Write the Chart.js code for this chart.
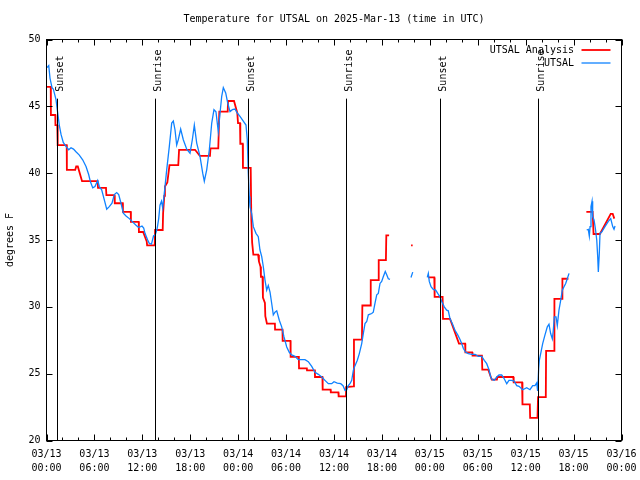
<!DOCTYPE html>
<html><head><meta charset="utf-8">
<script src="https://cdn.jsdelivr.net/npm/chart.js@4/dist/chart.umd.min.js"></script>
<style>html,body{margin:0;padding:0;background:#fff}</style>
</head><body>
<canvas id="c" width="640" height="480"></canvas>
<script>
const titleText = 'Temperature for UTSAL on 2025-Mar-13 (time in UTC)';
const yTitle = 'degrees F';
const seriesNames = ['UTSAL Analysis', 'UTSAL'];
const seriesColors = ['#ff0000', '#0f82ff'];
const yMin = 20, yMax = 50, yStep = 5;
const xMin = 0, xMax = 72, xMajorStep = 6, xMinorStep = 2;
const startMonth = '03', startDay = 13;

const eventLabels = ['Sunset', 'Sunrise', 'Sunset', 'Sunrise', 'Sunset', 'Sunrise'];
const eventHours = [1.35, 13.62, 25.27, 37.55, 49.31, 61.6];

// UTSAL Analysis (hours since 03/13 00:00 UTC, deg F); null = no data
const redHours = [0.03,0.53,0.55,1.10,1.12,1.35,1.40,2.53,2.55,3.60,3.72,3.92,4.45,6.40,6.45,7.45,7.50,8.50,8.55,9.55,9.57,10.55,10.57,11.55,11.57,12.10,12.55,12.60,13.55,13.60,14.55,14.60,14.75,14.83,15.13,15.40,16.50,16.60,18.60,19.20,20.47,20.53,21.51,21.64,22.69,22.73,23.48,23.89,23.98,24.23,24.27,24.57,24.60,25.57,25.65,25.75,25.90,26.50,26.60,26.80,26.85,27.05,27.10,27.35,27.40,27.60,28.60,28.62,29.55,29.57,30.55,30.57,31.60,31.62,32.60,32.62,33.60,33.62,34.55,34.58,35.58,35.60,36.55,36.58,37.50,37.52,38.45,38.50,39.50,39.55,40.55,40.60,41.55,41.60,42.50,42.55,42.90,
  44.0,45.65,45.85,46.5,
  47.80,48.56,48.60,49.60,49.65,50.53,51.65,52.42,52.45,53.30,53.35,54.52,54.57,55.32,55.75,56.40,56.45,58.45,58.50,59.55,59.60,60.52,60.56,61.48,61.55,62.52,62.56,63.55,63.60,64.55,64.60,65.35,
  66.5,67.60,68.39,68.50,69.30,70.65,70.90,71.10];
const redTemps = [46.45,46.45,44.35,44.35,43.6,43.6,42.1,42.1,40.25,40.25,40.5,40.5,39.4,39.4,38.9,38.9,38.35,38.35,37.75,37.75,37.1,37.1,36.35,36.35,35.6,35.6,34.9,34.6,34.6,35.75,35.75,37.0,38.3,39.0,39.3,40.6,40.6,41.75,41.75,41.3,41.3,41.85,41.85,44.6,44.6,45.4,45.4,44.5,43.75,43.75,42.2,42.2,40.4,40.4,36.5,34.8,33.9,33.9,33.4,33.0,32.25,32.25,30.7,30.3,29.3,28.75,28.75,28.3,28.3,27.45,27.45,26.25,26.25,25.4,25.4,25.25,25.25,24.75,24.75,23.8,23.8,23.6,23.6,23.3,23.3,24.0,24.05,27.55,27.55,30.1,30.1,32.0,32.0,33.5,33.5,35.35,35.35,
  null,34.6,34.6,null,
  32.2,32.2,30.75,30.75,29.1,29.1,27.25,27.25,26.6,26.6,26.35,26.35,25.3,25.3,24.55,24.55,24.75,24.75,24.35,24.35,22.7,22.7,21.7,21.7,23.25,23.25,26.7,26.7,30.6,30.6,32.1,32.1,
  null,37.1,37.1,35.45,35.45,36.95,36.95,36.6];

// UTSAL observations
const blueHours = [0.06,0.28,0.44,0.69,0.85,1.19,1.35,1.60,1.82,2.10,2.44,2.78,3.07,3.38,3.69,4.11,4.53,4.95,5.28,5.48,5.79,6.07,6.41,6.61,6.91,7.24,7.54,7.86,8.20,8.49,8.79,9.04,9.33,9.62,9.96,10.37,10.87,11.21,11.50,11.80,11.96,12.17,12.33,12.67,12.87,13.15,13.40,13.62,13.84,14.05,14.21,14.40,14.55,14.84,15.05,15.38,15.68,15.88,16.09,16.30,16.50,16.80,17.13,17.56,17.97,18.26,18.51,18.81,19.22,19.56,19.76,20.06,20.39,20.69,20.97,21.22,21.51,21.73,21.94,22.14,22.44,22.69,22.98,23.27,23.60,23.89,24.23,24.64,24.98,25.14,25.27,25.39,25.48,25.69,25.90,26.23,26.52,26.73,26.95,27.15,27.36,27.57,27.77,27.99,28.20,28.40,28.61,28.83,29.15,29.45,29.74,30.08,30.40,30.70,31.12,31.53,31.96,32.37,32.78,33.21,33.62,34.04,34.46,34.87,35.29,35.71,36.00,36.41,36.84,37.13,37.38,37.59,37.79,38.00,38.22,38.42,38.63,38.92,39.17,39.47,39.67,39.88,40.10,40.30,40.72,40.92,41.13,41.35,41.55,41.76,41.97,42.17,42.42,42.60,42.80,43.01,
  44.0,45.64,45.86,46.5,
  47.68,47.81,47.93,48.15,48.43,48.73,48.99,49.27,49.49,49.81,50.11,50.31,50.53,50.81,51.15,51.49,51.78,51.99,52.19,52.49,52.82,53.24,53.66,54.07,54.50,54.82,55.12,55.41,55.62,55.82,56.07,56.37,56.66,57.00,57.33,57.63,57.91,58.25,58.54,58.88,59.17,59.63,60.13,60.54,60.88,61.17,61.38,61.50,61.63,61.71,61.88,62.13,62.42,62.71,62.92,63.13,63.34,63.46,63.59,63.80,63.96,64.17,64.39,64.59,64.80,65.01,65.21,65.43,
  66.5,67.64,67.84,67.97,68.06,68.18,68.31,68.39,68.56,68.72,68.90,69.02,69.10,69.22,69.31,69.52,69.93,70.35,70.65,70.90,71.06,71.19];
const blueTemps = [47.9,48.05,47.1,46.4,46.3,45.5,44.75,43.6,42.9,42.3,42.0,41.75,41.9,41.8,41.6,41.35,41.0,40.5,39.9,39.4,38.9,39.0,39.45,39.0,38.75,38.0,37.3,37.5,37.75,38.4,38.55,38.4,37.75,37.0,36.8,36.6,36.3,36.1,35.95,36.0,36.05,35.9,35.5,35.0,34.75,34.7,35.3,35.4,35.8,36.6,37.6,37.9,37.4,39.0,40.25,42.0,43.75,43.9,43.25,42.1,42.5,43.3,42.5,41.8,41.5,42.5,43.6,42.25,41.25,40.0,39.4,40.25,41.75,43.75,44.75,44.6,43.1,44.5,45.75,46.4,46.0,45.25,44.6,44.75,44.8,44.5,44.25,43.9,43.6,42.5,40.0,38.25,37.5,37.0,36.0,35.5,35.25,34.25,33.75,33.0,32.0,31.25,31.6,31.1,30.25,29.4,29.6,29.7,29.0,28.5,27.75,27.0,26.6,26.4,26.3,26.05,26.05,26.05,25.9,25.55,25.1,24.95,24.75,24.5,24.25,24.25,24.4,24.3,24.25,24.1,23.75,23.8,24.1,24.25,24.5,25.25,25.6,26.0,26.5,27.25,28.0,28.75,28.9,29.4,29.5,29.6,30.25,30.9,31.0,31.75,31.9,32.25,32.65,32.4,32.1,32.05,
  null,32.2,32.6,null,
  32.2,32.5,31.9,31.5,31.3,31.25,31.0,30.75,30.4,30.0,29.75,29.7,29.1,28.75,28.25,27.9,27.55,27.25,26.9,26.6,26.5,26.45,26.45,26.3,26.3,26.0,25.75,25.3,24.75,24.55,24.5,24.75,24.9,24.9,24.6,24.25,24.5,24.5,24.45,24.1,24.05,23.8,23.95,23.8,24.1,24.1,24.3,23.7,25.4,26.0,26.5,27.25,27.9,28.5,28.7,28.0,27.6,28.25,29.25,29.25,28.6,29.75,30.5,31.25,31.5,31.75,32.1,32.5,
  null,35.75,35.8,35.3,36.0,37.5,37.9,36.75,36.5,35.9,35.0,33.75,32.6,34.0,35.5,35.6,36.0,36.4,36.6,36.0,35.8,36.05];

const FONT = '"DejaVu Sans Mono", "Liberation Mono", monospace';
const toPoints = (hs, ts) => hs.map((h, i) => ({ x: h, y: ts[i] }));

const overlay = {
  id: 'overlay',
  afterDatasetsDraw(chart) {
    const { ctx, chartArea: a, scales: { x, y } } = chart;
    ctx.save();
    ctx.strokeStyle = '#000';
    ctx.fillStyle = '#000';
    ctx.lineWidth = 1;
    ctx.font = '10px ' + FONT;
    // sunrise / sunset markers
    const lineTop = a.bottom - (a.bottom - a.top) * 0.8525;
    eventHours.forEach((h, i) => {
      const px = Math.round(x.getPixelForValue(h)) + 0.5;
      ctx.beginPath(); ctx.moveTo(px, a.bottom); ctx.lineTo(px, lineTop); ctx.stroke();
      ctx.save();
      ctx.translate(px + 5, lineTop - 7);
      ctx.rotate(-Math.PI / 2);
      ctx.textAlign = 'left'; ctx.textBaseline = 'alphabetic';
      ctx.fillText(eventLabels[i], 0, 0);
      ctx.restore();
    });
    // frame
    ctx.strokeRect(a.left, a.top, a.right - a.left, a.bottom - a.top);
    // ticks
    ctx.beginPath();
    for (let v = yMin; v <= yMax; v += yStep) {
      const py = Math.round(y.getPixelForValue(v)) + 0.5;
      ctx.moveTo(a.left, py); ctx.lineTo(a.left + 6, py);
      ctx.moveTo(a.right, py); ctx.lineTo(a.right - 6, py);
    }
    for (let v = xMin; v <= xMax; v += xMinorStep) {
      const px = Math.round(x.getPixelForValue(v)) + 0.5;
      const len = (v % xMajorStep === 0) ? 6 : 3;
      ctx.moveTo(px, a.bottom); ctx.lineTo(px, a.bottom - len);
      ctx.moveTo(px, a.top); ctx.lineTo(px, a.top + len);
    }
    ctx.stroke();
    // legend (gnuplot style: text right-aligned, sample line to the right)
    chart.data.datasets.forEach((ds, i) => {
      const ly = 50 + i * 13;
      ctx.textAlign = 'right'; ctx.textBaseline = 'middle';
      ctx.fillStyle = '#000';
      ctx.fillText(ds.label, a.right - 47.5, ly);
      ctx.strokeStyle = ds.borderColor; ctx.lineWidth = ds.borderWidth;
      ctx.beginPath(); ctx.moveTo(a.right - 40, ly); ctx.lineTo(a.right - 11, ly); ctx.stroke();
    });
    ctx.restore();
  }
};

new Chart(document.getElementById('c'), {
  type: 'line',
  data: {
    datasets: [
      { label: seriesNames[0], data: toPoints(redHours, redTemps), borderColor: seriesColors[0], borderWidth: 1.8, order: 1 },
      { label: seriesNames[1], data: toPoints(blueHours, blueTemps), borderColor: seriesColors[1], borderWidth: 1.3, order: 0 }
    ]
  },
  options: {
    responsive: false,
    animation: false,
    devicePixelRatio: 1,
    spanGaps: false,
    elements: { point: { radius: 0 }, line: { tension: 0, borderJoinStyle: 'miter' } },
    layout: { padding: { left: 0, right: 18.5, top: 0, bottom: 0 } },
    plugins: {
      legend: { display: false },
      tooltip: { enabled: false },
      title: {
        display: true, text: titleText, color: '#000', fullSize: false,
        font: { family: FONT, size: 10, weight: 'normal', lineHeight: 1.2 },
        padding: { top: 13.5, bottom: 14 }
      }
    },
    scales: {
      x: {
        type: 'linear', min: xMin, max: xMax,
        afterFit: s => { s.height = 39.5; s.paddingLeft = 0; s.paddingRight = 0; },
        grid: { display: false, drawTicks: false },
        border: { display: false },
        ticks: {
          stepSize: xMajorStep, autoSkip: false, maxRotation: 0, includeBounds: true,
          color: '#000', padding: 7,
          font: { family: FONT, size: 10, lineHeight: 1.4 },
          callback: v => {
            const day = startDay + Math.floor(v / 24);
            const hr = v % 24;
            return [startMonth + '/' + day, String(hr).padStart(2, '0') + ':00'];
          }
        }
      },
      y: {
        min: yMin, max: yMax,
        afterFit: s => { s.width = 46.5; },
        grid: { display: false, drawTicks: false },
        border: { display: false },
        title: { display: true, text: yTitle, color: '#000', font: { family: FONT, size: 10 }, padding: { top: 4, bottom: 4 } },
        ticks: { stepSize: yStep, color: '#000', padding: 6, font: { family: FONT, size: 10 } }
      }
    }
  },
  plugins: [overlay]
});
</script>
</body></html>
